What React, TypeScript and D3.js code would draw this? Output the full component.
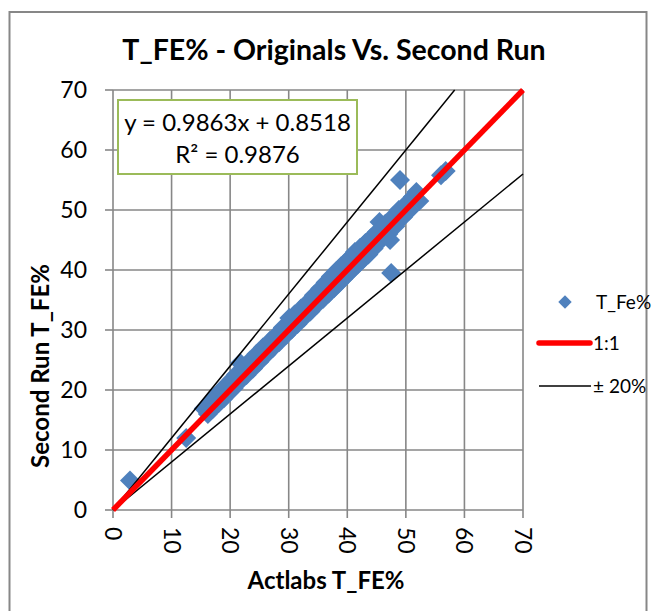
import React from "react";
import * as d3 from "d3";

const actlabs: number[] = [
  2.9, 12.5, 15.5, 16.2, 16.8, 17.1, 17.5, 18.0, 18.4, 18.9, 19.3, 19.8, 20.2, 20.6, 21.0, 21.5, 21.7,
  22.3, 22.8, 23.4, 23.9, 24.5, 25.0, 25.6, 26.2, 26.8, 27.3, 27.9, 28.4, 29.0, 29.6, 30.1, 30.5,
  31.0, 31.5, 32.1, 32.6, 33.2, 33.7, 34.3, 34.8, 35.4, 35.9, 36.3, 36.8, 37.2, 37.7, 38.1, 38.5,
  38.9, 39.3, 39.7, 40.1, 40.5, 40.9, 41.3, 41.8, 42.2, 42.7, 43.1, 43.6, 44.0, 44.5, 45.0, 45.5,
  46.0, 46.5, 47.0, 47.3, 47.5, 47.8, 48.2, 48.8, 49.0, 49.5, 50.0, 50.6, 51.2, 51.8, 52.3, 56.0, 56.8,
];
const secondRun: number[] = [
  4.9, 12.0, 16.9, 16.0, 18.2, 16.9, 19.0, 17.8, 19.9, 18.6, 20.8, 19.6, 21.7, 20.3, 22.6, 21.3, 24.5,
  23.8, 22.5, 24.9, 23.6, 26.0, 24.7, 27.1, 25.9, 28.2, 27.0, 29.2, 28.0, 30.4, 29.2, 32.0, 30.1,
  32.6, 31.0, 33.6, 32.1, 34.6, 33.1, 35.8, 34.2, 36.9, 35.2, 37.9, 36.1, 38.9, 36.9, 39.8, 37.7,
  40.6, 38.5, 41.3, 39.3, 42.1, 40.1, 43.0, 40.9, 43.7, 41.8, 44.5, 42.6, 45.3, 43.6, 46.3, 48.0,
  45.2, 47.7, 46.0, 45.0, 39.5, 48.9, 47.3, 50.0, 55.0, 48.8, 51.0, 49.9, 52.2, 53.0, 51.5, 55.8, 56.5,
];
const axisTicks: number[] = [0, 10, 20, 30, 40, 50, 60, 70];
const oneToOne: [number, number][] = [[0, 0], [70, 70]];
const plus20: [number, number][] = [[0, 0], [70 / 1.2, 70]];
const minus20: [number, number][] = [[0, 0], [70, 56]];
const legendLabels: string[] = ["T_Fe%", "1:1", "± 20%"];
const titleText = "T_FE% - Originals Vs. Second Run";
const xTitle = "Actlabs T_FE%";
const yTitle = "Second Run T_FE%";
const eqLines: string[] = ["y = 0.9863x + 0.8518", "R² = 0.9876"];

const FONT = "Lato, 'Open Sans', sans-serif";
const BLUE = "#4f81bd";
const GRID = "#878787";

export default function App() {
  const x = d3.scaleLinear().domain([0, 70]).range([113, 523]);
  const y = d3.scaleLinear().domain([0, 70]).range([510, 90]);
  const line = d3.line<[number, number]>().x((d) => x(d[0])).y((d) => y(d[1]));
  const diamond = d3.symbol().type(d3.symbolSquare).size(200)();
  const legendDiamond = d3.symbol().type(d3.symbolSquare).size(90)();

  return (
    <svg width={654} height={611} style={{ position: "absolute", left: 0, top: 0, background: "#fff" }}>
      <rect x={0} y={0} width={654} height={611} fill="#fff" />
      <rect x={9.5} y={12} width={637} height={620} fill="#fff" stroke={GRID} strokeWidth={2} />
      <text x={334} y={60} textAnchor="middle" fontFamily={FONT} fontWeight="bold" fontSize={28.5} fill="#000">
        {titleText}
      </text>
      {/* gridlines */}
      {axisTicks.map((t) => (
        <g key={"g" + t}>
          <line x1={x(t)} x2={x(t)} y1={y(0)} y2={y(70)} stroke={GRID} strokeWidth={1.6} />
          <line x1={x(0)} x2={x(70)} y1={y(t)} y2={y(t)} stroke={GRID} strokeWidth={1.6} />
          <line x1={x(0) - 8} x2={x(0)} y1={y(t)} y2={y(t)} stroke={GRID} strokeWidth={1.6} />
          <line x1={x(t)} x2={x(t)} y1={y(0)} y2={y(0) + 8} stroke={GRID} strokeWidth={1.6} />
          <text x={87} y={y(t)} dy="0.35em" textAnchor="end" fontFamily={FONT} fontSize={23} fill="#000">
            {t}
          </text>
          <text
            transform={`translate(${x(t)},${527}) rotate(90)`}
            dy="0.35em"
            textAnchor="start"
            fontFamily={FONT}
            fontSize={23}
            fill="#000"
          >
            {t}
          </text>
        </g>
      ))}
      {/* points */}
      {actlabs.map((v, i) => (
        <path
          key={"p" + i}
          d={diamond as string}
          transform={`translate(${x(v)},${y(secondRun[i])}) rotate(45)`}
          fill={BLUE}
        />
      ))}
      {/* lines */}
      <path d={line(plus20) as string} stroke="#000" strokeWidth={1.5} fill="none" />
      <path d={line(minus20) as string} stroke="#000" strokeWidth={1.5} fill="none" />
      <path d={line(oneToOne) as string} stroke="#ff0000" strokeWidth={5.5} fill="none" />
      {/* equation box */}
      <rect x={118} y={100} width={239} height={74} fill="#fff" stroke="#9bbb59" strokeWidth={2} />
      <text x={237.5} y={131} textAnchor="middle" fontFamily={FONT} fontSize={24} fill="#000">
        {eqLines[0]}
      </text>
      <text x={237.5} y={163} textAnchor="middle" fontFamily={FONT} fontSize={24} fill="#000">
        {eqLines[1]}
      </text>
      {/* axis titles */}
      <text x={326} y={589} textAnchor="middle" fontFamily={FONT} fontWeight="bold" fontSize={24} fill="#000">
        {xTitle}
      </text>
      <text
        transform="translate(49,366) rotate(-90)"
        textAnchor="middle"
        fontFamily={FONT}
        fontWeight="bold"
        fontSize={24}
        fill="#000"
      >
        {yTitle}
      </text>
      {/* legend */}
      <path d={legendDiamond as string} transform="translate(565,302) rotate(45)" fill={BLUE} />
      <text x={596} y={302} dy="0.35em" fontFamily={FONT} fontSize={19} fill="#000">
        {legendLabels[0]}
      </text>
      <line x1={539} x2={590} y1={343} y2={343} stroke="#ff0000" strokeWidth={5.5} strokeLinecap="round" />
      <text x={593} y={343} dy="0.35em" fontFamily={FONT} fontSize={19} fill="#000">
        {legendLabels[1]}
      </text>
      <line x1={539} x2={591} y1={386} y2={386} stroke="#000" strokeWidth={1.5} />
      <text x={593} y={386} dy="0.35em" fontFamily={FONT} fontSize={19} fill="#000">
        {legendLabels[2]}
      </text>
    </svg>
  );
}
